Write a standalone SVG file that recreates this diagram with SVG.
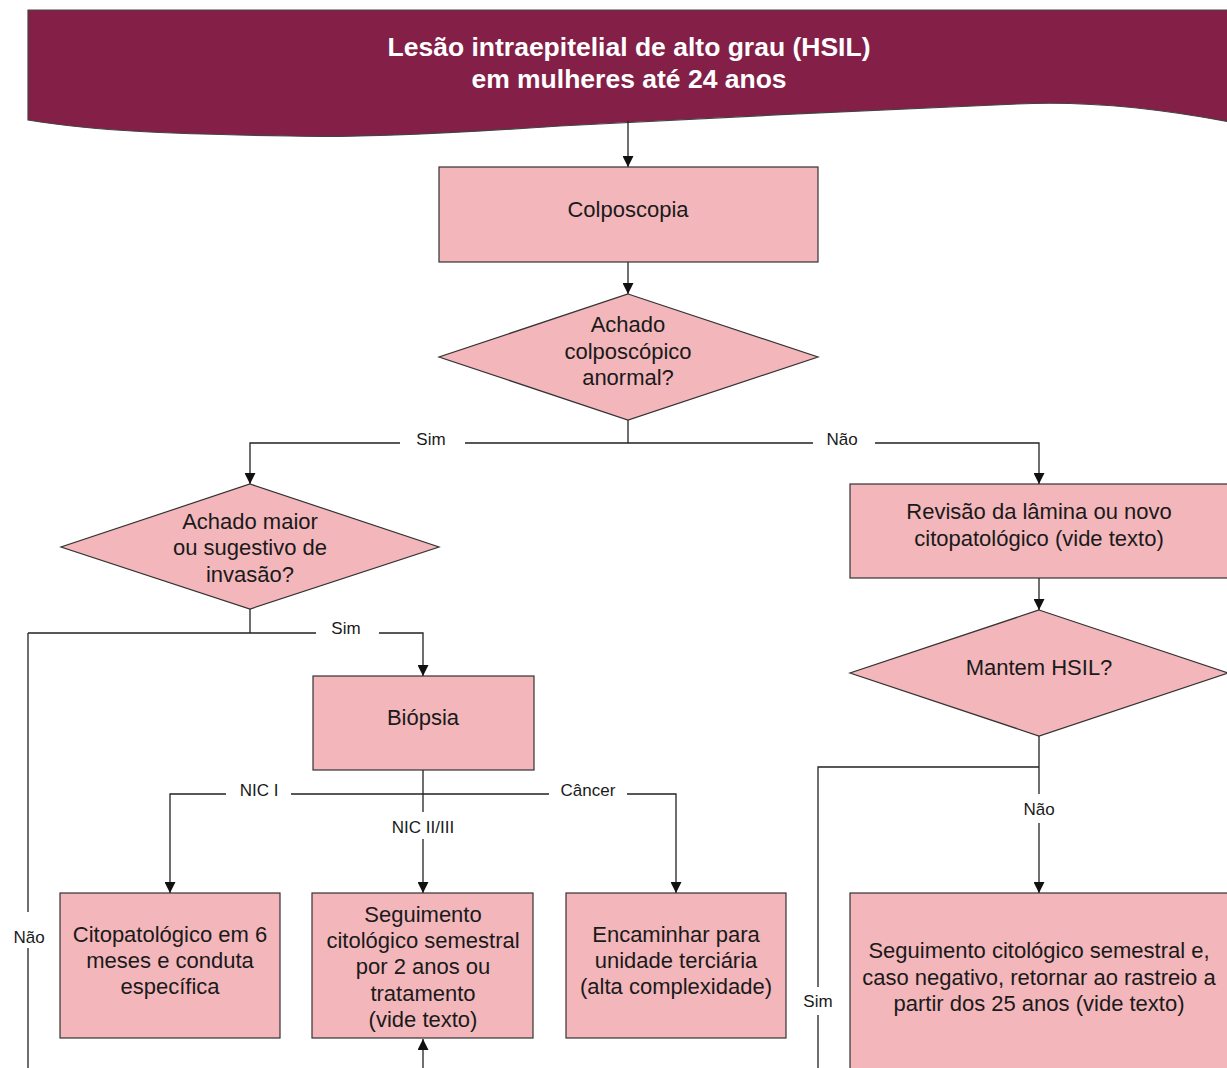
<svg xmlns="http://www.w3.org/2000/svg" width="1227" height="1068" viewBox="0 0 1227 1068">
<defs>
<style>
.node{fill:#F3B6BB;stroke:#333;stroke-width:1.2}
.t{font-family:"Liberation Sans",Arial,sans-serif;font-size:22px;fill:#1a1a1a;text-anchor:middle}
.lbl{font-family:"Liberation Sans",Arial,sans-serif;font-size:17px;fill:#1a1a1a;text-anchor:middle}
.hdr{font-family:"Liberation Sans",Arial,sans-serif;font-size:26.5px;font-weight:bold;fill:#fff;text-anchor:middle}
.c{fill:none;stroke:#222;stroke-width:1.3}
.a{marker-end:url(#arr)}
</style>
<marker id="arr" markerUnits="userSpaceOnUse" markerWidth="11" markerHeight="11" refX="11" refY="5.5" orient="auto" viewBox="0 0 11 11">
<path d="M0,0 L11,5.5 L0,11 z" fill="#111"/>
</marker>
</defs>
<rect width="1227" height="1068" fill="#fff"/>

<g id="header">
<path d="M28,10 H1240 V124 C1180,112 1100,100 1017,104 C880,110 700,118 560,126 C440,134 350,138 290,136 C180,134 100,132 28,120 Z" fill="#841F48" stroke="#444" stroke-width="1.2"/>
<text class="hdr" x="629" y="56">Lesão intraepitelial de alto grau (HSIL)</text>
<text class="hdr" x="629" y="88">em mulheres até 24 anos</text>
</g>

<g id="connectors">
<path class="c a" d="M628,121 V167"/>
<path class="c a" d="M628,262 V294"/>
<path class="c" d="M628,420 V443 M465,443 H813"/>
<path class="c a" d="M400,443 H250 V484"/>
<path class="c a" d="M875,443 H1039 V484"/>
<path class="c a" d="M1039,578 V610"/>
<path class="c" d="M250,609 V633 M28,633 H316"/>
<path class="c a" d="M379,633 H423 V676"/>
<path class="c" d="M28,633 V912 M28,948 V1068"/>
<path class="c" d="M423,770 V812 M291,794 H549"/>
<path class="c a" d="M423,839 V893"/>
<path class="c a" d="M226,794 H170 V893"/>
<path class="c a" d="M627,794 H676 V893"/>
<path class="c a" d="M423,1068 V1039"/>
<path class="c" d="M1039,736 V794 M1039,767 H818 V987 M818,1015 V1068"/>
<path class="c a" d="M1039,823 V893"/>
<text class="lbl" x="431" y="445">Sim</text>
<text class="lbl" x="842" y="445">Não</text>
<text class="lbl" x="346" y="634">Sim</text>
<text class="lbl" x="29" y="943">Não</text>
<text class="lbl" x="259" y="796">NIC I</text>
<text class="lbl" x="588" y="796">Câncer</text>
<text class="lbl" x="423" y="833">NIC II/III</text>
<text class="lbl" x="1039" y="815">Não</text>
<text class="lbl" x="818" y="1007">Sim</text>
</g>

<g id="colposcopia">
<rect class="node" x="439" y="167" width="379" height="95"/>
<text class="t" x="628" y="217">Colposcopia</text>
</g>

<g id="achado-anormal">
<polygon class="node" points="628,294 818,357 628,420 439,357"/>
<text class="t" x="628" y="332">Achado</text>
<text class="t" x="628" y="359">colposcópico</text>
<text class="t" x="628" y="385">anormal?</text>
</g>

<g id="achado-maior">
<polygon class="node" points="250,484 439,547 250,609 61,547"/>
<text class="t" x="250" y="529">Achado maior</text>
<text class="t" x="250" y="555">ou sugestivo de</text>
<text class="t" x="250" y="582">invasão?</text>
</g>

<g id="revisao">
<rect class="node" x="850" y="484" width="378" height="94"/>
<text class="t" x="1039" y="519">Revisão da lâmina ou novo</text>
<text class="t" x="1039" y="546">citopatológico (vide texto)</text>
</g>

<g id="mantem-hsil">
<polygon class="node" points="1039,610 1228,673 1039,736 850,673"/>
<text class="t" x="1039" y="675">Mantem HSIL?</text>
</g>

<g id="biopsia">
<rect class="node" x="313" y="676" width="221" height="94"/>
<text class="t" x="423" y="725">Biópsia</text>
</g>

<g id="nic1">
<rect class="node" x="60" y="893" width="220" height="145"/>
<text class="t" x="170" y="942">Citopatológico em 6</text>
<text class="t" x="170" y="968">meses e conduta</text>
<text class="t" x="170" y="994">específica</text>
</g>

<g id="nic23">
<rect class="node" x="312" y="893" width="221" height="145"/>
<text class="t" x="423" y="922">Seguimento</text>
<text class="t" x="423" y="948">citológico semestral</text>
<text class="t" x="423" y="974">por 2 anos ou</text>
<text class="t" x="423" y="1001">tratamento</text>
<text class="t" x="423" y="1027">(vide texto)</text>
</g>

<g id="cancer">
<rect class="node" x="566" y="893" width="220" height="145"/>
<text class="t" x="676" y="942">Encaminhar para</text>
<text class="t" x="676" y="968">unidade terciária</text>
<text class="t" x="676" y="994">(alta complexidade)</text>
</g>

<g id="seguimento-rastreio">
<rect class="node" x="850" y="893" width="378" height="190"/>
<text class="t" x="1039" y="958">Seguimento citológico semestral e,</text>
<text class="t" x="1039" y="985">caso negativo, retornar ao rastreio a</text>
<text class="t" x="1039" y="1011">partir dos 25 anos (vide texto)</text>
</g>
</svg>
